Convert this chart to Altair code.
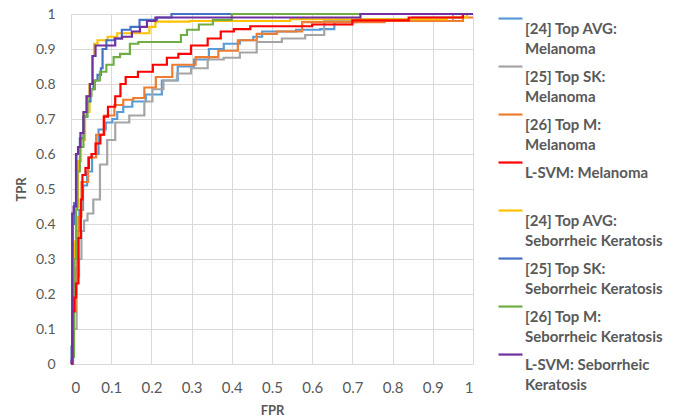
import altair as alt
import pandas as pd

series_names = [
    "[24] Top AVG:|Melanoma",
    "[25] Top SK:|Melanoma",
    "[26] Top M:|Melanoma",
    "L-SVM: Melanoma|",
    "[24] Top AVG:|Seborrheic Keratosis",
    "[25] Top SK:|Seborrheic Keratosis",
    "[26] Top M:|Seborrheic Keratosis",
    "L-SVM: Seborrheic|Keratosis",
]
series_colors = ["#5B9BD5", "#A5A5A5", "#ED7D31", "#FF0000",
                 "#FFC000", "#4472C4", "#70AD47", "#7030A0"]
series_widths = [2.2, 2.2, 2.2, 4, 2.2, 2.2, 2.2, 4]

# [24] Top AVG: Melanoma
avg_mel_fpr = [0, 0.01, 0.017, 0.025, 0.035, 0.045, 0.06, 0.077, 0.096, 0.11, 0.12, 0.14, 0.165, 0.207,
               0.245, 0.286, 0.326, 0.36, 0.40, 0.44, 0.467, 0.484, 0.52, 0.60, 0.64, 0.67, 0.75, 0.95, 1.0]
avg_mel_tpr = [0, 0.2, 0.38, 0.44, 0.51, 0.55, 0.6, 0.67, 0.69, 0.70, 0.72, 0.735, 0.75, 0.77,
               0.81, 0.85, 0.87, 0.90, 0.915, 0.925, 0.935, 0.95, 0.95, 0.955, 0.957, 0.977, 0.985, 0.99, 1.0]
# [25] Top SK: Melanoma
sk_mel_fpr = [0, 0.01, 0.018, 0.022, 0.03, 0.035, 0.047, 0.064, 0.08, 0.10, 0.12, 0.17, 0.195, 0.21,
              0.25, 0.277, 0.32, 0.36, 0.40, 0.44, 0.484, 0.565, 0.60, 0.66, 0.90, 1.0]
sk_mel_tpr = [0, 0.1, 0.25, 0.30, 0.38, 0.41, 0.43, 0.47, 0.57, 0.64, 0.69, 0.71, 0.75, 0.785,
              0.81, 0.83, 0.845, 0.87, 0.875, 0.89, 0.92, 0.93, 0.94, 0.98, 0.98, 1.0]
# [26] Top M: Melanoma
m_mel_fpr = [0, 0.008, 0.015, 0.022, 0.03, 0.055, 0.07, 0.096, 0.12, 0.14, 0.17, 0.195, 0.227, 0.277,
             0.343, 0.39, 0.44, 0.484, 0.54, 0.61, 0.95, 1.0]
m_mel_tpr = [0, 0.15, 0.3, 0.42, 0.52, 0.59, 0.655, 0.71, 0.74, 0.755, 0.76, 0.79, 0.82, 0.855,
             0.877, 0.895, 0.925, 0.943, 0.95, 0.977, 0.98, 0.99]
# L-SVM: Melanoma
svm_mel_fpr = [0, 0.007, 0.01, 0.015, 0.022, 0.027, 0.03, 0.042, 0.047, 0.055, 0.067, 0.079, 0.084, 0.10,
               0.12, 0.126, 0.146, 0.187, 0.22, 0.257, 0.277, 0.32, 0.36, 0.385, 0.425, 0.467, 0.60, 0.60,
               0.70, 0.70, 0.84, 0.84, 0.95, 1.0]
svm_mel_tpr = [0, 0.15, 0.19, 0.23, 0.36, 0.47, 0.54, 0.56, 0.59, 0.60, 0.63, 0.655, 0.707, 0.735,
               0.765, 0.80, 0.82, 0.835, 0.855, 0.875, 0.886, 0.91, 0.93, 0.95, 0.957, 0.965, 0.965, 0.97,
               0.97, 0.982, 0.982, 0.99, 0.99, 1.0]
# [24] Top AVG: Seborrheic Keratosis
avg_sk_fpr = [0, 0.005, 0.008, 0.01, 0.015, 0.02, 0.03, 0.04, 0.052, 0.055, 0.06, 0.072, 0.11, 0.12,
              0.19, 0.2, 0.22, 0.37, 0.72, 0.9, 0.97, 1.0]
avg_sk_tpr = [0, 0.06, 0.28, 0.35, 0.45, 0.58, 0.64, 0.72, 0.8, 0.88, 0.915, 0.925, 0.935, 0.945,
              0.945, 0.963, 0.978, 0.98, 0.985, 0.985, 0.99, 1.0]
# [25] Top SK: Seborrheic Keratosis
sk_sk_fpr = [0, 0.003, 0.006, 0.01, 0.017, 0.027, 0.035, 0.045, 0.052, 0.06, 0.072, 0.077, 0.08, 0.096,
             0.12, 0.133, 0.163, 0.178, 0.25, 0.25, 1.0]
sk_sk_tpr = [0, 0.05, 0.4, 0.46, 0.60, 0.645, 0.707, 0.75, 0.785, 0.81, 0.826, 0.845, 0.90, 0.925,
             0.93, 0.955, 0.963, 0.983, 0.99, 1.0, 1.0]
# [26] Top M: Seborrheic Keratosis
m_sk_fpr = [0, 0.005, 0.01, 0.015, 0.017, 0.027, 0.035, 0.047, 0.055, 0.064, 0.08, 0.096, 0.116, 0.128,
            0.165, 0.17, 0.27, 0.277, 0.30, 0.336, 0.37, 0.40, 0.40, 1.0]
m_sk_tpr = [0, 0.02, 0.3, 0.44, 0.55, 0.62, 0.707, 0.765, 0.785, 0.81, 0.835, 0.855, 0.877, 0.886,
            0.915, 0.92, 0.92, 0.94, 0.955, 0.97, 0.983, 0.983, 1.0, 1.0]
# L-SVM: Seborrheic Keratosis
svm_sk_fpr = [0, 0.003, 0.003, 0.01, 0.015, 0.02, 0.027, 0.035, 0.042, 0.052, 0.055, 0.067, 0.104, 0.116,
              0.138, 0.165, 0.178, 0.2, 0.22, 0.72, 0.72, 1.0]
svm_sk_tpr = [0, 0.01, 0.43, 0.45, 0.6, 0.62, 0.66, 0.72, 0.765, 0.8, 0.88, 0.91, 0.91, 0.93,
              0.935, 0.95, 0.963, 0.98, 0.99, 0.99, 1.0, 1.0]

curves = [
    (series_names[0], avg_mel_fpr, avg_mel_tpr),
    (series_names[1], sk_mel_fpr, sk_mel_tpr),
    (series_names[2], m_mel_fpr, m_mel_tpr),
    (series_names[4], avg_sk_fpr, avg_sk_tpr),
    (series_names[5], sk_sk_fpr, sk_sk_tpr),
    (series_names[6], m_sk_fpr, m_sk_tpr),
    (series_names[3], svm_mel_fpr, svm_mel_tpr),
    (series_names[7], svm_sk_fpr, svm_sk_tpr),
]

rows = []
for name, fx, ty in curves:
    for i, (a, b) in enumerate(zip(fx, ty)):
        rows.append({"series": name, "fpr": a, "tpr": b, "idx": i})
df = pd.DataFrame(rows)

ticks = [round(i * 0.1, 1) for i in range(11)]
FONT = "Lato"
TXT = "#595959"
LABEL_EXPR = "split(datum.label, '|')"

chart = alt.Chart(df).mark_line(interpolate="step").encode(
    x=alt.X("fpr:Q", title="FPR", scale=alt.Scale(domain=[0, 1], nice=False),
            axis=alt.Axis(values=ticks, format="~g")),
    y=alt.Y("tpr:Q", title="TPR", scale=alt.Scale(domain=[0, 1], nice=False),
            axis=alt.Axis(values=ticks, format="~g", labelFontSize=14)),
    color=alt.Color("series:N", scale=alt.Scale(domain=series_names, range=series_colors),
                    legend=alt.Legend(title=None, labelExpr=LABEL_EXPR)),
    strokeWidth=alt.StrokeWidth("series:N", scale=alt.Scale(domain=series_names, range=series_widths),
                                legend=alt.Legend(title=None, labelExpr=LABEL_EXPR)),
    order=alt.Order("idx:Q"),
).properties(
    width=402, height=350,
    autosize=alt.AutoSizeParams(type="none"),
    padding={"left": 63, "top": 6, "right": 200, "bottom": 52},
).configure(
    style={"guide-label": {"lineHeight": 20}}
).configure_view(stroke=None).configure_axis(
    grid=True, gridColor="#D9D9D9", gridWidth=1, domain=False, ticks=False,
    labelFont=FONT, labelFontSize=15, labelColor=TXT,
    titleFont=FONT, titleFontSize=13, titleFontWeight="bold", titleColor=TXT,
).configure_axisY(labelPadding=16, titlePadding=7).configure_axisX(
    labelPadding=16, titlePadding=9
).configure_legend(
    orient="none", legendX=426, legendY=1,
    symbolType="M-1,-0.83L1,-0.83", symbolSize=576,
    labelFont=FONT, labelFontSize=15, labelFontWeight="bold", labelColor=TXT,
    labelOffset=1, labelLimit=300, rowPadding=5, gridAlign="all",
)

chart.save("out.html", embed_options={"renderer": "svg", "actions": False})
